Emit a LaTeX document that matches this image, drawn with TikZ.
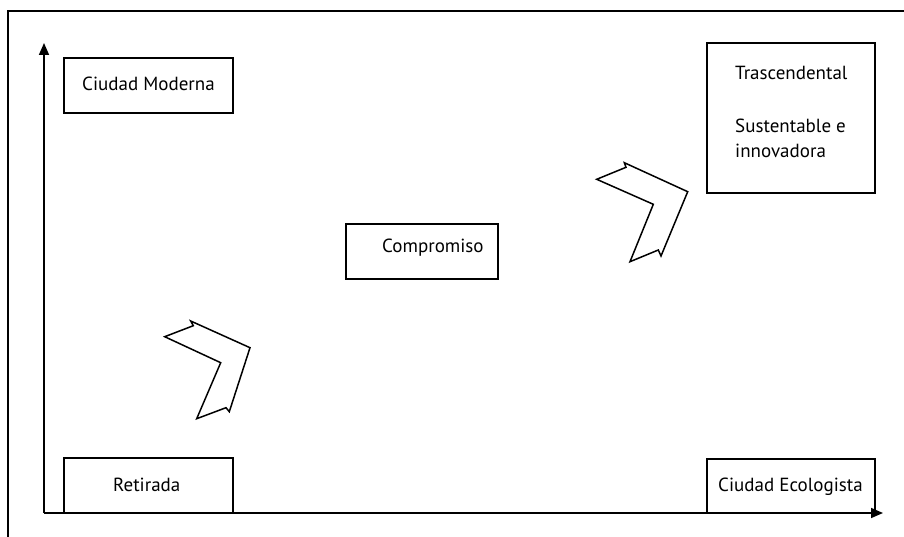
\documentclass[tikz,border=0pt]{standalone}
\usepackage{fontspec}
\setmainfont{PT Sans}
\usetikzlibrary{arrows.meta}
\begin{document}
\begin{tikzpicture}[x=1pt,y=-1pt,
  box/.style={draw,line width=1.6pt,inner sep=0pt},
  lbl/.style={anchor=base west,inner sep=0pt,font=\fontsize{19}{22}\selectfont},
  axis/.style={line width=1.6pt,-{Triangle[length=12pt,width=10pt]}},
  chev/.style={draw,line width=1.5pt,line join=miter}]
\useasboundingbox (0,0) rectangle (904,537);
% frame
\draw[line width=1.4pt] (8,537) -- (8,11) -- (904,11);
% boxes
\node[box,minimum width=169pt,minimum height=55pt] (mod) at (148.5,85.5) {};
\node[box,minimum width=169pt,minimum height=55pt] (ret) at (148.5,485.5) {};
\node[box,minimum width=168pt,minimum height=54pt] (eco) at (791,486) {};
\node[box,minimum width=168pt,minimum height=150pt] (tra) at (791,118) {};
\node[box,minimum width=152pt,minimum height=55pt] (com) at (422,251.5) {};
% axes
\coordinate (o) at (44,513);
\coordinate (ytop) at (44,43);
\coordinate (xend) at (883,513);
\draw[axis] (o) -- (ytop);
\draw[axis] (o) -- (xend);
% labels
\node[lbl] (tmod) at (82,91) {Ciudad Moderna};
\node[lbl] (tret) at (113,491) {Retirada};
\node[lbl] (tcom) at (382,253) {Compromiso};
\node[lbl] (teco) at (718,491) {Ciudad Ecologista};
\node[lbl] (ttra1) at (735,80) {Trascendental};
\node[lbl] (ttra2) at (735,133) {Sustentable e};
\node[lbl] (ttra3) at (735,158) {innovadora};
% chevrons
\draw[chev] (190.7,321) -- (250,347.7) -- (229.3,411.7) -- (226,407.7) -- (196.7,418.7) -- (220.7,362.7) -- (164.7,336.7) -- (193.3,325.7) -- cycle;
\draw[chev] (624.3,162.7) -- (687.7,191.7) -- (661,256) -- (658.3,250) -- (630,261.7) -- (653.3,204.3) -- (596.7,179.3) -- (626,167.3) -- cycle;
\end{tikzpicture}
\end{document}
